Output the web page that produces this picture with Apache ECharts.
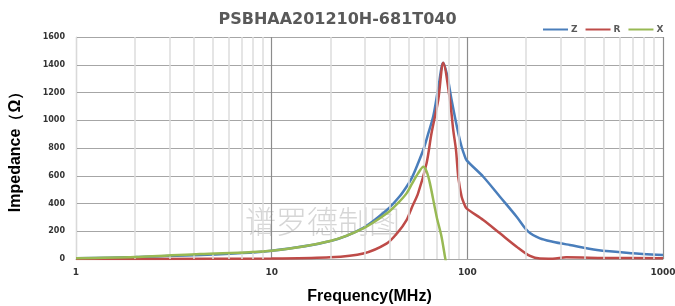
<!DOCTYPE html>
<html><head><meta charset="utf-8">
<script src="https://cdn.jsdelivr.net/npm/echarts@6/dist/echarts.min.js"></script>
<style>html,body{margin:0;padding:0;background:#fff}#c{width:675px;height:306px}</style>
</head><body><div id="c"></div>
<script>
const title = 'PSBHAA201210H-681T040';
const seriesNames = ['Z', 'R', 'X'];
const xTicks = [1, 10, 100, 1000];
const minorGrid = [2,3,4,5,6,7,8,9,20,30,40,50,60,70,80,90,200,300,400,500,600,700,800,900];

const freqZ = [1, 2, 5, 10, 20, 29.4, 38.8, 45, 48.9, 51.9, 56, 60, 63, 67, 71, 75.3, 79, 83.1, 89.9, 93.5, 96.5, 99, 120.6, 146.8, 178.6, 204.8, 235, 273, 334, 460, 700, 1000];
const valZ  = [5, 14, 32, 60, 130, 225, 353, 450, 521, 581, 690, 800, 900, 1030, 1230, 1415, 1320, 1146, 906, 809, 750, 713, 593, 449, 305, 197, 149, 125, 101, 65, 42, 29];

const freqR = [1, 5, 10, 19.9, 29.4, 38.8, 44, 48.9, 52, 56, 61.9, 65.6, 71, 75.3, 81.5, 84.7, 87.5, 89.9, 93.5, 96.5, 99, 120.6, 146.8, 178.6, 209, 235, 273, 320, 500, 1000];
const valR  = [0, 1, 3, 12, 40, 113, 190, 281, 370, 473, 690, 906, 1146, 1415, 1146, 930, 786, 590, 449, 395, 365, 281, 185, 89, 22, 3, 2, 12, 8, 5];

const freqX = [1, 2, 4.3, 10, 19.9, 29.4, 38.8, 44, 48.9, 52, 56, 59.6, 62, 64.4, 69.7, 73.8, 77, 82];
const valX  = [5, 14, 36, 60, 130, 221, 329, 400, 473, 540, 617, 665, 630, 545, 305, 161, 10, -200];

const pairs = (f, v) => f.map((x, i) => [x, v[i]]);

const chart = echarts.init(document.getElementById('c'));
const lineStyleBase = {width: 2.5};
const lineSeries = (name, data, color, z) => ({
  name, type: 'line', data, showSymbol: false, symbol: 'none', smooth: 0.3,
  color, lineStyle: Object.assign({color}, lineStyleBase), z
});
chart.setOption({
  animation: false,
  title: {text: title, left: 'center', top: 7,
    textStyle: {fontFamily: 'DejaVu Sans', fontWeight: 'bold', fontSize: 16, color: '#595959'}},
  legend: {data: seriesNames, left: 538, top: 20, icon: 'rect', itemWidth: 25, itemHeight: 2, itemGap: 8,
    textStyle: {fontFamily: 'DejaVu Sans', fontWeight: 'bold', fontSize: 9, color: '#595959', padding: [0,0,0,-2]}},
  grid: {left: 76, right: 12, top: 37, bottom: 47, outerBoundsMode: 'none', containLabel: false},
  xAxis: {type: 'log', logBase: 10, min: 1, max: 1000,
    name: 'Frequency(MHz)', nameLocation: 'middle', nameGap: 30,
    nameTextStyle: {fontFamily: 'Liberation Sans', fontWeight: 'bold', fontSize: 16, color: '#000'},
    axisLine: {show: true, lineStyle: {color: '#a6a6a6', width: 1}},
    axisTick: {show: false},
    axisLabel: {fontFamily: 'DejaVu Sans', fontWeight: 'bold', fontSize: 9, color: '#333', margin: 9,
      formatter: v => xTicks.includes(Math.round(v)) ? String(Math.round(v)) : ''},
    splitLine: {show: true, lineStyle: {color: '#8c8c8c', width: 1.2}}},
  yAxis: {type: 'value', min: 0, max: 1600, interval: 200,
    name: 'Impedance（Ω）', nameLocation: 'middle', nameGap: 52, nameRotate: 90,
    nameTextStyle: {fontFamily: 'Liberation Sans', fontWeight: 'bold', fontSize: 16, color: '#000'},
    axisLine: {show: true, lineStyle: {color: '#d9d9d9'}},
    axisTick: {show: false},
    axisLabel: {fontFamily: 'DejaVu Sans', fontWeight: 'bold', fontSize: 8, color: '#333', margin: 11,
      formatter: v => String(v)},
    splitLine: {show: true, lineStyle: {color: '#a6a6a6', width: 1.2}}},
  graphic: [{type: 'text', left: 245, top: 206, silent: true, z: 0,
    style: {text: '谱罗德制图', fontFamily: 'Noto Sans CJK SC', fontWeight: 300, fontSize: 31, fill: '#d6d6d6'}}],
  series: [
    {name: 'grid', type: 'line', data: [], silent: true, z: 0,
      markLine: {silent: true, symbol: 'none', label: {show: false},
        lineStyle: {color: '#dcdcdc', type: 'solid', width: 1.5},
        data: minorGrid.map(v => ({xAxis: v}))}},
    lineSeries('Z', pairs(freqZ, valZ), '#4a7ebb', 3),
    lineSeries('R', pairs(freqR, valR), '#be4b48', 4),
    lineSeries('X', pairs(freqX, valX), '#98b954', 5)
  ]
});
</script></body></html>
